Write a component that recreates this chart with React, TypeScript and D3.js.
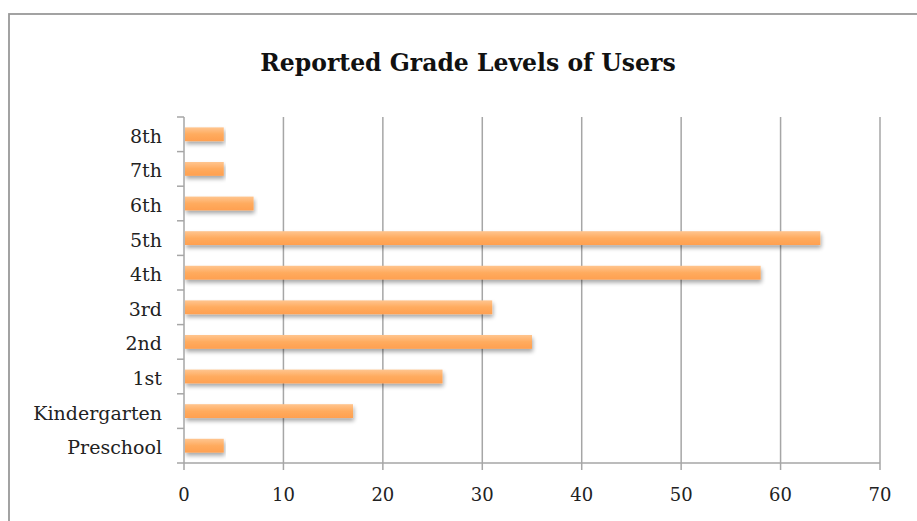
import React from "react";
import * as d3 from "d3";

const categories = ["Preschool", "Kindergarten", "1st", "2nd", "3rd", "4th", "5th", "6th", "7th", "8th"];
const values = [4, 17, 26, 35, 31, 58, 64, 7, 4, 4];
const xTicks = [0, 10, 20, 30, 40, 50, 60, 70];
const title = "Reported Grade Levels of Users";

export default function App() {
  const W = 917, H = 521;
  const left = 184, right = 880, top = 117, bottom = 463;
  const x = d3.scaleLinear().domain([0, 70]).range([left, right]);
  const y = d3.scaleBand().domain([...categories].reverse()).range([top, bottom]).paddingInner(0.6).paddingOuter(0.3);
  const band = (bottom - top) / categories.length;
  const font = "'DejaVu Serif', 'Liberation Serif', serif";
  const grid = "#a6a6a6";
  return (
    <svg width={W} height={H} style={{ position: "absolute", left: 0, top: 0 }} xmlns="http://www.w3.org/2000/svg">
      <defs>
        <linearGradient id="barg" x1="0" y1="0" x2="0" y2="1">
          <stop offset="0" stopColor="#ffc58f" />
          <stop offset="0.5" stopColor="#ffab5e" />
          <stop offset="1" stopColor="#ffa050" />
        </linearGradient>
        <filter id="sh" x="-5%" y="-50%" width="110%" height="250%">
          <feGaussianBlur in="SourceAlpha" stdDeviation="2" />
          <feOffset dx="1" dy="3" result="b" />
          <feComponentTransfer><feFuncA type="linear" slope="0.35" /></feComponentTransfer>
          <feMerge><feMergeNode /><feMergeNode in="SourceGraphic" /></feMerge>
        </filter>
      </defs>
      <rect x={9} y={14} width={W + 20} height={H + 20} fill="#fff" stroke="#999" strokeWidth={1.8} />
      <text x={468} y={71} textAnchor="middle" fontFamily={font} fontWeight="bold" fontSize={23.5} fill="#111">{title}</text>
      {xTicks.filter(t => t > 0).map(t => (
        <line key={t} x1={x(t)} x2={x(t)} y1={top} y2={bottom} stroke={grid} strokeWidth={1.5} />
      ))}
      {categories.map((c, i) => {
        const yy = y(c)!;
        return (
          <g key={c}>
            <rect x={x(0) + 1} y={yy} width={x(values[i]) - x(0) - 1} height={y.bandwidth()} fill="url(#barg)" filter="url(#sh)" />
          </g>
        );
      })}
      <line x1={left} x2={left} y1={top} y2={bottom} stroke={grid} strokeWidth={1.5} />
      <line x1={left} x2={right} y1={bottom} y2={bottom} stroke={grid} strokeWidth={1.5} />
      {d3.range(categories.length + 1).map(i => (
        <line key={i} x1={177} x2={left} y1={top + i * band} y2={top + i * band} stroke={grid} strokeWidth={1.5} />
      ))}
      {xTicks.map(t => (
        <g key={t}>
          <line x1={x(t)} x2={x(t)} y1={bottom} y2={bottom + 7} stroke={grid} strokeWidth={1.5} />
          <text x={x(t)} y={501} textAnchor="middle" fontFamily={font} fontSize={18} fill="#222">{t}</text>
        </g>
      ))}
      {categories.map(c => (
        <text key={c} x={162} y={y(c)! + y.bandwidth() / 2 + 8.5} textAnchor="end" fontFamily={font} fontSize={19} fill="#222">{c}</text>
      ))}
    </svg>
  );
}
